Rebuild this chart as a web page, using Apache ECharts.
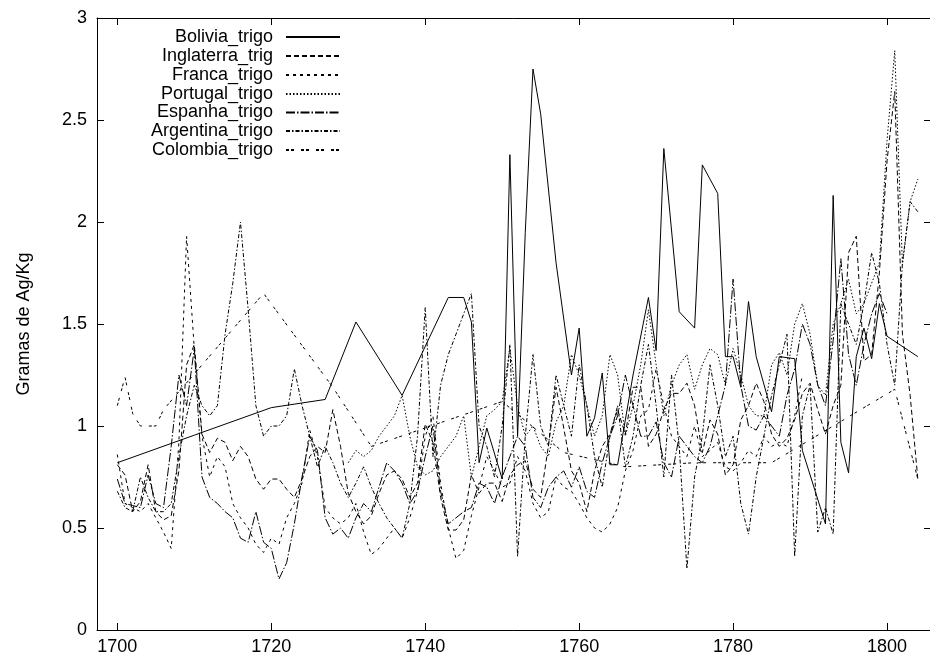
<!DOCTYPE html>
<html><head><meta charset="utf-8">
<script src="https://cdn.jsdelivr.net/npm/echarts@6/dist/echarts.min.js"></script>
<style>html,body{margin:0;padding:0;background:#fff}#c{width:930px;height:664px}</style>
</head><body><div id="c"></div>
<script>
const seriesNames = ['Bolivia_trigo','Inglaterra_trig','Franca_trigo','Portugal_trigo','Espanha_trigo','Argentina_trigo','Colombia_trigo'];
const xTickValues = [1700,1720,1740,1760,1780,1800];

const boliviaYears = [1700,1710,1720,1727,1731,1737,1743,1745,1746,1747,1748,1750,1751,1752,1753,1754,1755,1757,1759,1760,1761,1762,1763,1764,1765,1767,1769,1770,1771,1773,1775,1776,1778,1779,1780,1781,1782,1783,1785,1786,1788,1789,1792,1793,1794,1795,1796,1797,1798,1799,1800,1804];
const boliviaValues = [0.82,0.955,1.09,1.13,1.51,1.15,1.63,1.63,1.51,0.82,0.99,0.74,2.33,0.95,1.95,2.75,2.53,1.80,1.25,1.48,0.95,1.04,1.26,0.81,0.81,1.25,1.63,1.37,2.36,1.56,1.48,2.28,2.14,1.34,1.34,1.19,1.61,1.34,1.07,1.34,1.33,0.88,0.52,2.13,0.92,0.77,1.34,1.48,1.33,1.60,1.44,1.34];

const inglaterraStart = 1700;
const inglaterraValues = [0.81,0.76,0.58,0.63,0.81,0.58,0.54,0.56,0.78,1.30,1.40,0.96,0.87,0.94,0.92,0.83,0.90,0.85,0.74,0.69,
0.74,0.74,0.69,0.65,0.74,0.85,0.90,0.87,1.08,0.90,0.67,0.58,0.52,0.56,0.67,0.76,0.78,0.74,0.65,0.72,
1.01,0.92,0.65,0.49,0.49,0.54,0.76,0.67,0.72,0.72,0.63,0.76,0.81,0.83,0.69,0.65,0.90,1.19,0.99,0.78,
0.72,0.58,0.78,0.90,0.96,1.08,0.96,1.19,1.19,0.90,0.96,1.08,1.16,1.16,1.21,1.10,0.87,1.03,0.96,0.76,
0.81,1.03,1.10,1.21,1.12,0.96,0.90,0.94,1.03,1.16,1.21,1.08,0.96,1.10,1.20,1.85,1.93,1.32,1.35,1.75,
2.30,2.64,1.45,1.15,0.74];

const francaStart = 1700;
const francaValues = [0.86,0.62,0.60,0.58,0.62,0.55,0.48,0.40,0.92,1.93,1.38,0.95,0.75,0.85,0.80,0.62,0.55,0.50,0.42,0.38,
0.45,0.42,0.55,0.62,0.72,0.98,0.85,0.60,0.55,0.52,0.55,0.62,0.48,0.37,0.40,0.45,0.50,0.45,0.55,0.68,
0.95,1.05,0.72,0.50,0.35,0.39,0.56,0.70,0.85,0.78,0.70,0.72,0.85,0.78,0.62,0.55,0.58,0.75,0.70,0.68,
0.62,0.55,0.50,0.48,0.52,0.60,0.78,0.88,1.05,1.08,1.28,1.10,0.95,0.90,0.85,1.00,0.85,0.88,0.92,0.80,
0.78,0.82,0.88,0.85,0.95,0.90,0.92,0.90,1.05,1.25];

const portugalStart = 1730;
const portugalValues = [0.82,0.88,0.85,0.88,0.95,1.00,1.05,1.15,0.95,0.80,
0.76,0.78,0.85,0.90,0.95,1.05,0.75,0.90,1.05,1.08,1.12,1.38,1.10,0.95,1.00,0.90,0.85,1.02,1.10,1.35,
1.25,1.10,0.95,1.05,1.35,1.25,0.95,1.10,1.30,1.57,1.30,1.05,1.20,1.30,1.35,1.18,1.30,1.38,1.35,1.20,
1.38,1.25,1.10,1.05,1.05,1.30,1.36,1.25,1.50,1.60,1.45,1.20,1.15,1.50,1.60,1.72,1.55,1.60,1.70,1.80,
2.40,2.84,1.79,2.10,2.21];

const espanhaStart = 1700;
const espanhaValues = [0.74,0.62,0.61,0.60,0.76,0.62,0.60,0.90,1.25,1.10,1.38,0.75,0.65,0.62,0.58,0.55,0.45,0.43,0.58,0.43,
0.40,0.25,0.33,0.52,0.75,0.95,0.88,0.55,0.47,0.50,0.45,0.55,0.62,0.58,0.70,0.82,0.78,0.72,0.62,0.68,
0.85,1.00,0.68,0.52,0.55,0.58,0.60,0.72,0.70,0.62,0.75,0.85,0.95,0.90,0.65,0.60,0.70,0.75,0.78,0.70,
0.80,0.68,0.65,0.82,0.95,1.05,1.25,1.10,0.95,0.95,1.02,0.82,0.75,0.95,0.90,0.85,0.82,0.90,1.05,1.20,
1.72,1.20,1.00,0.98,1.05,1.00,0.95,1.15,1.28,1.50,1.40,1.20,1.10,1.42,1.82,1.35,1.20,1.40,1.55,1.65,
1.55];

const argentinaStart = 1700;
const argentinaValues = [0.68,0.60,0.58,0.75,0.65,0.58,0.58,0.62,0.85,1.05,1.20,1.10,1.05,1.10,1.45,1.70,2.00,1.57,1.10,0.95,
1.00,1.00,1.05,1.28,1.10,0.95,0.80,0.90,0.82,0.72,0.65,0.72,0.80,0.70,0.62,0.55,0.50,0.45,0.62,0.95,
1.58,0.85,1.20,1.35,1.45,1.55,1.65,1.00,0.90,0.75,1.00,1.40,0.36,0.95,1.35,1.00,0.90,1.25,1.10,0.95,
1.30,1.10,0.85,0.70,0.95,1.10,0.80,0.95,1.20,1.40,1.10,0.75,1.25,0.90,0.30,0.75,0.95,1.30,1.10,0.85,
0.95,0.62,0.47,0.75,0.95,1.15,1.30,1.45,0.36,1.05,1.20,0.48,0.60,0.47,1.60,1.50,1.40,1.60,1.85,1.70,
1.40,1.20,1.80,2.10,2.05];

const colombiaYears = [1700,1701,1702,1703,1704,1705,1706,1719,1728,1733,1750,1758,1766,1775,1785,1801,1804];
const colombiaValues = [1.10,1.24,1.06,1.00,1.00,1.00,1.08,1.65,1.19,0.90,1.12,0.87,0.80,0.82,0.82,1.18,0.74];

function annual(start, vals){ return vals.map((v,i)=>[start+i, v]); }
function paired(years, vals){ return years.map((y,i)=>[y, vals[i]]); }

const seriesData = [
  paired(boliviaYears, boliviaValues),
  annual(inglaterraStart, inglaterraValues),
  annual(francaStart, francaValues),
  annual(portugalStart, portugalValues),
  annual(espanhaStart, espanhaValues),
  annual(argentinaStart, argentinaValues),
  paired(colombiaYears, colombiaValues)
];
const dashTypes = ['solid',[5,3],[3,4],[1.5,2],[9,2,1.5,2],[4,2,1.5,2],[3,2,3,7]];
const legendRowsTop = [28,47,66,85,103.5,122,141];

const FONT = 'Liberation Sans, Arial, Helvetica, sans-serif';
const chart = echarts.init(document.getElementById('c'), null, {renderer:'canvas'});

const axisCommon = {
  type:'value',
  axisLine:{show:true,onZero:false,lineStyle:{color:'#000',width:1}},
  axisTick:{show:true,inside:true,length:7,lineStyle:{color:'#000',width:1}},
  splitLine:{show:false}
};

const X_MIN = 1697.36, X_MAX = 1805.71;

const option = {
  animation:false,
  backgroundColor:'#fff',
  grid:{left:97,top:18,right:-1,bottom:34,containLabel:false,outerBoundsMode:'none'},
  xAxis:[
    Object.assign({}, axisCommon, {position:'bottom', min:X_MIN, max:X_MAX,
      axisTick:Object.assign({}, axisCommon.axisTick, {customValues:xTickValues}),
      axisLabel:{customValues:xTickValues, formatter:(v)=>String(Math.round(v)), margin:8, color:'#000', fontSize:18, fontFamily:FONT, showMinLabel:true, showMaxLabel:true}}),
    Object.assign({}, axisCommon, {position:'top', min:X_MIN, max:X_MAX,
      axisTick:Object.assign({}, axisCommon.axisTick, {customValues:xTickValues}),
      axisLabel:{show:false}})
  ],
  yAxis:[
    Object.assign({}, axisCommon, {position:'left', min:0, max:3, interval:0.5,
      name:'Gramas de Ag/Kg', nameLocation:'middle', nameGap:64, nameRotate:90,
      nameTextStyle:{color:'#000', fontSize:18, fontFamily:FONT},
      axisLabel:{margin:10, color:'#000', fontSize:18, fontFamily:FONT}}),
    Object.assign({}, axisCommon, {position:'right', min:0, max:3, interval:0.5, axisLabel:{show:false}})
  ],
  legend: seriesNames.map((n,i)=>({
    data:[n], orient:'horizontal', align:'right', right:589, top:legendRowsTop[i],
    padding:0, itemWidth:54, itemHeight:14, itemGap:0,
    itemStyle:{opacity:0},
    textStyle:{color:'#000', fontSize:18, fontFamily:FONT, padding:[0,8,0,0]},
    selectedMode:false
  })),
  series: seriesNames.map((n,i)=>({
    name:n, type:'line', data:seriesData[i], xAxisIndex:0, yAxisIndex:0,
    symbol:'none', showSymbol:false, smooth:false, clip:true,
    lineStyle:{color:'#000', width:1, type:dashTypes[i]},
    itemStyle:{color:'#000'},
    emphasis:{disabled:true}
  }))
};
chart.setOption(option);
</script></body></html>
